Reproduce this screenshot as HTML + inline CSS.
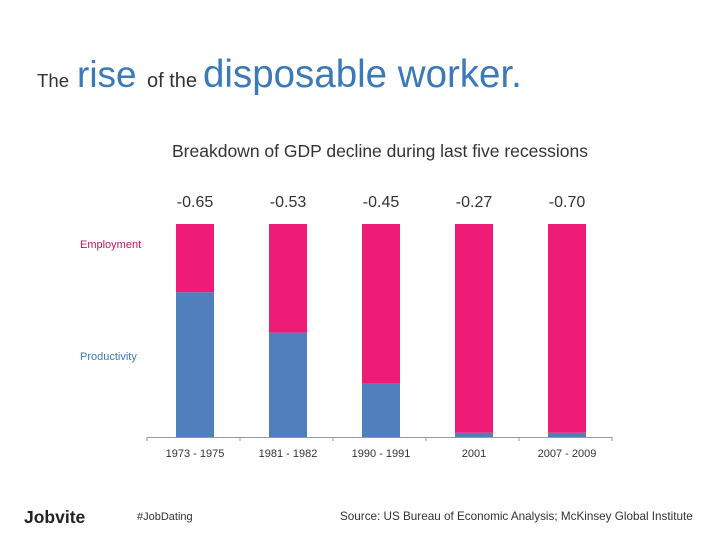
<!DOCTYPE html>
<html><head><meta charset="utf-8"><style>
body{margin:0;width:728px;height:546px;background:#fff;font-family:"Liberation Sans",sans-serif;overflow:hidden;position:relative}
.t{position:absolute;white-space:nowrap}
</style></head><body>
<svg width="728" height="110" style="position:absolute;left:0;top:0" font-family="Liberation Sans">
<text x="37" y="87" font-size="18.6" fill="#333">The</text>
<text x="77" y="87" font-size="37" fill="#3b79b8">rise</text>
<text x="147" y="87" font-size="20" fill="#333">of the</text>
<text x="203" y="87" font-size="38.5" fill="#3b79b8">disposable worker.</text>
</svg>
<div class="t" style="left:172px;top:141px;font-size:17.5px;color:#333">Breakdown of GDP decline during last five recessions</div>
<div class="t" style="left:80px;top:239px;font-size:11px;color:#c2185b">Employment</div>
<div class="t" style="left:80px;top:351px;font-size:11px;color:#3b79b8">Productivity</div>
<svg id="chart" width="728" height="546" style="position:absolute;left:0;top:0"></svg>
<div class="t" style="left:24px;top:507px;font-size:17.5px;font-weight:bold;color:#222">Jobvite</div>
<div class="t" style="left:137px;top:511px;font-size:11px;color:#333">#JobDating</div>
<div class="t" style="left:340px;top:510px;font-size:11.7px;color:#333">Source: US Bureau of Economic Analysis; McKinsey Global Institute</div>
<script>
const categories=["1973 - 1975","1981 - 1982","1990 - 1991","2001","2007 - 2009"];
const totals=["-0.65","-0.53","-0.45","-0.27","-0.70"];
const productivityShare=[68,49,25,2,2];
const employmentShare=[32,51,75,98,98];
const NS="http://www.w3.org/2000/svg";
const svg=document.getElementById('chart');
const x0=147,step=93,bw=38,yTop=224,yBot=437;
const xc=i=>x0+step*(i+0.5)+1.5;
const yS=v=>yBot-(yBot-yTop)*v/100;
function mk(t,a){const e=document.createElementNS(NS,t);for(const k in a)e.setAttribute(k,a[k]);svg.appendChild(e);return e;}
categories.forEach((c,i)=>{
 const p=productivityShare[i],e=employmentShare[i];
 let r=mk('rect',{x:xc(i)-bw/2,y:yS(p),width:bw,height:yBot-yS(p),fill:'#4f7fbd'});
 
 
 r=mk('rect',{x:xc(i)-bw/2,y:yS(p+e),width:bw,height:yS(p)-yS(p+e),fill:'#ee1c77'});
 
 
 let t=mk('text',{x:xc(i),y:207,'text-anchor':'middle','font-size':16,fill:'#333','font-family':'Liberation Sans'});t.textContent=totals[i];
 
 
 t=mk('text',{x:xc(i),y:457,'text-anchor':'middle','font-size':11,fill:'#333','font-family':'Liberation Sans'});t.textContent=c;
 
 
});
const ax=mk('line',{x1:x0,x2:x0+step*categories.length,y1:yBot+0.5,y2:yBot+0.5,stroke:'#999'});


for(let i=0;i<=categories.length;i++){const l=mk('line',{x1:x0+step*i,x2:x0+step*i,y1:yBot,y2:yBot+4,stroke:'#999'});
 
 }
</script>
</body></html>
